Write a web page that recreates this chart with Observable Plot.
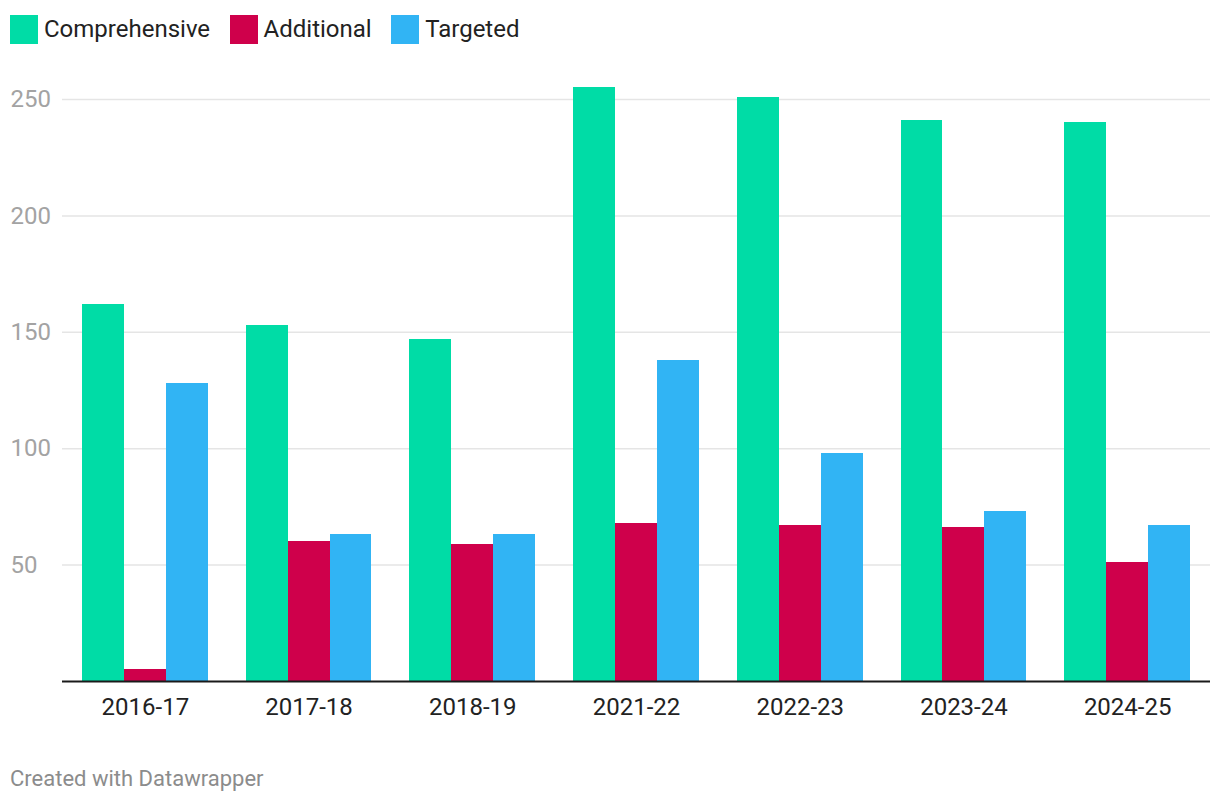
<!DOCTYPE html>
<html>
<head>
<meta charset="utf-8">
<script src="https://cdn.jsdelivr.net/npm/d3@7"></script>
<script src="https://cdn.jsdelivr.net/npm/@observablehq/plot@0.6"></script>
<style>
  html, body { margin: 0; padding: 0; background: #fff; font-family: Roboto, "Noto Sans", sans-serif; }
  #legend { height: 58px; display: flex; align-items: center; padding-left: 10px; box-sizing: border-box; }
  .item { display: flex; align-items: center; margin-right: 19.5px; font-size: 24px; color: #222; }
  .sw { width: 28px; height: 29px; margin-right: 6px; }
  #chart svg { display: block; }
  #footer { font-size: 22px; color: #8c8c8c; padding-left: 10px; padding-top: 30px; }
</style>
</head>
<body>
<div id="legend"></div>
<div id="chart"></div>
<div id="footer">Created with Datawrapper</div>
<script>
const years = ["2016-17", "2017-18", "2018-19", "2021-22", "2022-23", "2023-24", "2024-25"];
const seriesNames = ["Comprehensive", "Additional", "Targeted"];
const seriesColors = ["#00dca6", "#cf004b", "#31b4f4"];
const comprehensive = [162, 153, 147, 255, 251, 241, 240];
const additional = [5, 60, 59, 68, 67, 66, 51];
const targeted = [128, 63, 63, 138, 98, 73, 67];
const yTicks = [50, 100, 150, 200, 250];

const seriesValues = [comprehensive, additional, targeted];

// legend
const legend = document.getElementById("legend");
seriesNames.forEach((name, i) => {
  const it = document.createElement("div");
  it.className = "item";
  const sw = document.createElement("div");
  sw.className = "sw";
  sw.style.background = seriesColors[i];
  it.appendChild(sw);
  it.appendChild(document.createTextNode(name));
  legend.appendChild(it);
});

const W = 1220, H = 678, ML = 62, MR = 10, MT = 41, MB = 55;
const padInner = 0.232, padOuter = 0.122;
const step = (W - ML - MR) / (years.length - padInner + 2 * padOuter);
const bw = step * (1 - padInner);
const sub = bw / seriesNames.length;

const marks = [
  Plot.ruleY(yTicks, {stroke: "#e5e5e5", strokeWidth: 1.5}),
  Plot.axisY(yTicks, {tickSize: 0, tickPadding: 3, textAnchor: "start", dx: -49, fontSize: 24, fill: "#a3a3a3", label: null}),
  Plot.axisX({tickSize: 0, tickPadding: 16, fontSize: 24, fill: "#222", label: null})
];
seriesNames.forEach((name, i) => {
  const data = years.map((y, j) => ({year: y, value: seriesValues[i][j]}));
  marks.push(Plot.barY(data, {
    x: "year", y: "value", fill: seriesColors[i], shapeRendering: "crispEdges",
    insetLeft: i * sub, insetRight: (seriesNames.length - 1 - i) * sub
  }));
});
marks.push(Plot.ruleY([0], {stroke: "#1a1a1a", strokeWidth: 2}));

const chart = Plot.plot({
  width: W, height: H,
  marginLeft: ML, marginRight: MR, marginTop: MT, marginBottom: MB,
  style: {fontFamily: "Roboto, sans-serif", background: "#fff"},
  x: {type: "band", domain: years, paddingInner: padInner, paddingOuter: padOuter, round: false},
  y: {domain: [0, 250]},
  marks
});
document.getElementById("chart").appendChild(chart);
</script>
</body>
</html>
